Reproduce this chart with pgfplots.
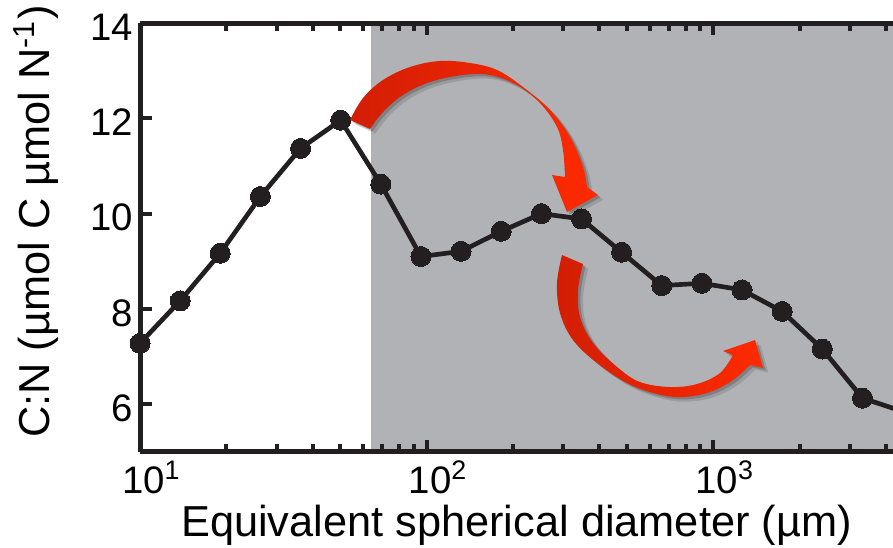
\documentclass[border=0pt]{standalone}
\usepackage{fontspec}
\setmainfont{Liberation Sans}
\usepackage{graphicx}
\usepackage{pgfplots}
\pgfplotsset{compat=1.18}
\usetikzlibrary{shadows}

\definecolor{ink}{RGB}{35,31,32}
\definecolor{shade}{RGB}{177,178,182}
\definecolor{ardark}{RGB}{210,30,5}
\definecolor{arbright}{RGB}{255,42,0}

\tikzset{softshadow/.style={
  drop shadow={shadow xshift=1.6pt, shadow yshift=-1.4pt, opacity=0.12, fill=black},
  drop shadow={shadow xshift=0.8pt, shadow yshift=-0.7pt, opacity=0.18, fill=black}}}

\begin{document}
\begin{tikzpicture}
\begin{axis}[
  name=ax,
  scale only axis,
  width=225.9pt, height=128.7pt,
  xmode=log,
  xmin=10, xmax=4232,
  ymin=5, ymax=14,
  clip=false,
  axis x line*=box,
  axis y line*=left,
  axis on top,
  axis line style={ink, line width=1.5pt},
  tick align=inside,
  major tick length=3.6pt,
  minor tick length=2.3pt,
  major tick style={ink, line width=1.2pt},
  minor tick style={ink, line width=1.2pt},
  xtick={10,100,1000},
  xticklabels={10\textsuperscript{1},10\textsuperscript{2},10\textsuperscript{3}},
  minor xtick={20,30,40,50,60,70,80,90,200,300,400,500,600,700,800,900,2000,3000,4000},
  ytick={6,8,10,12,14},
  yticklabels={6,8,10,12,14},
  tick label style={font=\fontsize{11.5}{13}\selectfont, text=black},
  xticklabel style={anchor=base, yshift=-12.6pt, xshift=3.5pt},
  yticklabel style={xshift=1.5pt, yshift=-1.2pt},
  xlabel={Equivalent spherical diameter (µm)},
  ylabel={C:N (µmol C µmol N\textsuperscript{-1})},
  label style={font=\fontsize{13}{15}\selectfont},
  xlabel style={at={(axis description cs:0.5,-0.197)}, anchor=base},
  ylabel style={at={(axis description cs:-0.138,0.537)}, anchor=center},
]
% size fraction above ~64 um shaded
\addplot[fill=shade, draw=none, forget plot] coordinates {(64,5) (64,14) (4232,14) (4232,5)} -- cycle;

% line runs on to a last point past the right edge (cut by the page)
\addplot[ink, line width=1.4pt, no marks] coordinates {
  (10.0,7.28) (13.80,8.17) (19.05,9.17) (26.30,10.36) (36.31,11.37)
  (50.12,11.96) (69.18,10.62) (95.50,9.10) (131.8,9.21) (182.0,9.63)
  (251.2,10.00) (346.7,9.89) (478.6,9.19) (660.7,8.49) (912.0,8.54)
  (1258.9,8.40) (1737.8,7.95) (2398.8,7.16) (3311.3,6.13) (4570.9,5.85)
};
% markers for the points inside the plot
\addplot[only marks, mark=*, mark size=3pt,
  mark options={fill=ink, draw=ink, line width=0pt}] coordinates {
  (10.0,7.28) (13.80,8.17) (19.05,9.17) (26.30,10.36) (36.31,11.37)
  (50.12,11.96) (69.18,10.62) (95.50,9.10) (131.8,9.21) (182.0,9.63)
  (251.2,10.00) (346.7,9.89) (478.6,9.19) (660.7,8.49) (912.0,8.54)
  (1258.9,8.40) (1737.8,7.95) (2398.8,7.16) (3311.3,6.13)
};
\end{axis}

% curved arrows, in reference pixel units from the picture's top left corner
\begin{scope}[shift={(ax.north west)}, xshift=-42pt, yshift=6.9pt, x=0.3pt, y=-0.3pt]
\path[softshadow,
  left color=ardark, middle color=ardark!50!arbright, right color=arbright]
  plot[smooth, tension=0.6] coordinates {(350,120) (363,98) (383,80) (410,67) (440,61)
    (470,63) (497,70) (523,87) (550,110) (570,137) (583,167) (587,187)}
  -- (598,195) -- (567,212) -- (552,175)
  -- plot[smooth, tension=0.6] coordinates {(565,177) (563,150) (557,127) (540,103)
    (517,85) (490,75) (463,75) (430,82) (403,95) (383,112) (370,129)}
  -- cycle;
\path[softshadow,
  left color=ardark, middle color=arbright, right color=arbright]
  plot[smooth, tension=0.6] coordinates {(562,255) (557,283) (560,313) (573,340) (597,363)
    (627,383) (657,394) (683,397) (710,392) (733,380) (750,365)}
  -- (763,368) -- (755,340) -- (723,351)
  -- plot[smooth, tension=0.6] coordinates {(733,355) (720,373) (697,384) (670,387)
    (640,382) (617,367) (593,343) (580,317) (578,290) (583,264)}
  -- cycle;
\end{scope}

\pgfresetboundingbox
\path[use as bounding box, shift={(ax.north west)}] (-42pt,6.9pt) rectangle (225.9pt,-157.2pt);
\end{tikzpicture}
\end{document}
